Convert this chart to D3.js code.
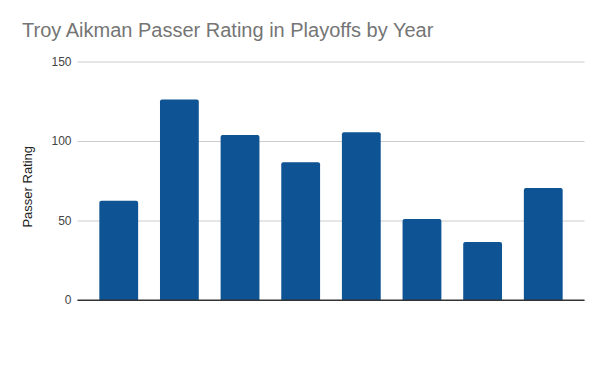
<!DOCTYPE html>
<html>
<head>
<meta charset="utf-8">
<script src="https://cdn.jsdelivr.net/npm/d3@7"></script>
<style>
  body { margin: 0; background: #fff; }
  text { font-family: "Liberation Sans", Arial, sans-serif; }
</style>
</head>
<body>
<div id="viz"></div>
<script>
// chart data
const years = ['1991', '1992', '1993', '1994', '1995', '1996', '1998', '1999'];
const ratings = [62.5, 126.1, 103.7, 86.7, 105.5, 50.9, 36.5, 70.4];
const yTicks = [0, 50, 100, 150];

const W = 600, H = 371;
const plot = {left: 77.5, right: 584.5, top: 61.5, bottom: 300};

let svg = d3.select('#viz').append('svg')
    .attr('width', W)
    .attr('height', H);

let x = d3.scaleBand()
    .domain(years)
    .range([plot.left, plot.right])
    .padding(0.36);

let y = d3.scaleLinear()
    .domain([0, 150])
    .range([plot.bottom, plot.top]);

// title
svg.append('text')
    .attr('x', 22)
    .attr('y', 37)
    .style('font-size', '20px')
    .style('fill', '#757575')
    .text('Troy Aikman Passer Rating in Playoffs by Year');

// gridlines + tick labels
let yAxis = svg.append('g')
    .attr('transform', `translate(${plot.left},0)`)
    .call(d3.axisLeft(y).tickValues(yTicks).tickSize(-(plot.right - plot.left)).tickPadding(6));

yAxis.select('.domain').remove();
yAxis.selectAll('.tick line')
    .attr('stroke', d => d === 0 ? '#333' : '#ccc')
    .attr('stroke-width', 1);
yAxis.selectAll('.tick text')
    .style('font-size', '12px')
    .style('fill', '#444')
    .style('font-family', '"Liberation Sans", Arial, sans-serif');

// axis title
svg.append('text')
    .attr('transform', `translate(31.5, ${(plot.top + plot.bottom) / 2 + 6}) rotate(-90)`)
    .attr('text-anchor', 'middle')
    .style('font-size', '13px')
    .style('fill', '#222')
    .text('Passer Rating');

// bars
const data = years.map((yr, i) => ({year: yr, value: ratings[i]}));
const r = 2;

svg.selectAll('.bar')
    .data(data)
    .join('path')
    .attr('class', 'bar')
    .attr('fill', '#0e5394')
    .attr('d', d => {
        let x0 = x(d.year), w = x.bandwidth();
        let y0 = y(d.value), y1 = y(0);
        return `M${x0},${y1}V${y0 + r}Q${x0},${y0} ${x0 + r},${y0}H${x0 + w - r}Q${x0 + w},${y0} ${x0 + w},${y0 + r}V${y1}Z`;
    });

// baseline on top of bars
svg.append('line')
    .attr('x1', plot.left).attr('x2', plot.right)
    .attr('y1', y(0)).attr('y2', y(0))
    .attr('stroke', '#333');
</script>
</body>
</html>
